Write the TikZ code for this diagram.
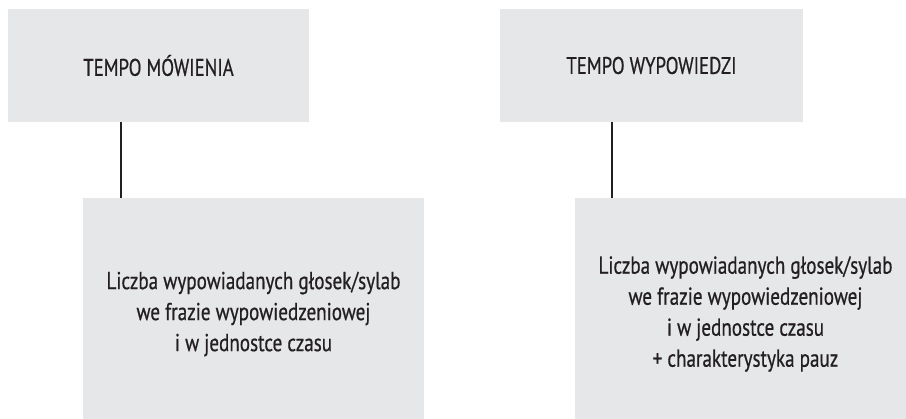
\documentclass[tikz,border=0pt]{standalone}
\usepackage{fontspec}
\setmainfont{PT Sans}[FakeStretch=0.78, FakeBold=0.6]
\definecolor{boxgrey}{RGB}{230,231,233}
\definecolor{inkgrey}{RGB}{35,31,32}
\begin{document}
\begin{tikzpicture}[x=1pt, y=-1pt,
    box/.style={fill=boxgrey, draw=none, inner sep=0pt, align=center, text=inkgrey},
    headbox/.style={box, minimum width=301pt, minimum height=113pt, font=\fontsize{24}{28}\selectfont},
    descbox/.style={box, minimum width=341pt, minimum height=232pt, font=\fontsize{24.5}{31}\selectfont},
    link/.style={draw=inkgrey, line width=1.8pt}]
    \useasboundingbox (0,0) rectangle (906,419);
    \clip (0,0) rectangle (906,419);
    % Headings at the top
    \node[headbox] (tempoM) at (158.5,65.5) {TEMPO MÓWIENIA};
    \node[headbox, minimum width=303pt] (tempoW) at (651.5,65.5) {TEMPO WYPOWIEDZI};
    % Descriptions below
    \node[descbox] (opisM) at (253.5,314) {Liczba wypowiadanych głosek/sylab\\we frazie wypowiedzeniowej\\i w jednostce czasu};
    \node[descbox] (opisW) at (745.5,314) {Liczba wypowiadanych głosek/sylab\\we frazie wypowiedzeniowej\\i w jednostce czasu\\+ charakterystyka pauz};
    % Vertical links
    \coordinate (jointM) at ([xshift=38pt]opisM.north west);
    \coordinate (jointW) at ([xshift=37pt]opisW.north west);
    \draw[link] (jointM) -- (jointM |- tempoM.south);
    \draw[link] (jointW) -- (jointW |- tempoW.south);
\end{tikzpicture}
\end{document}
